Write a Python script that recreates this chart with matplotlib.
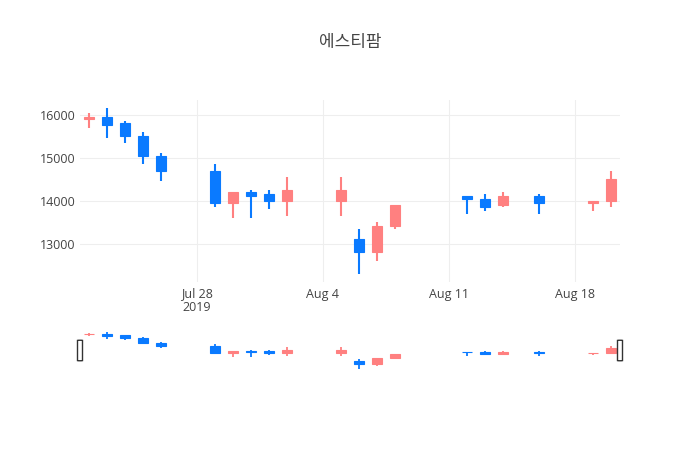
import matplotlib
matplotlib.use("Agg")
import matplotlib.pyplot as plt
import matplotlib.dates as mdates
from matplotlib.patches import FancyBboxPatch
import numpy as np
import datetime as dt

plt.rcParams['font.family'] = ['Open Sans', 'Noto Sans CJK KR', 'DejaVu Sans']

title = '에스티팜'
dates = ['2019-07-22', '2019-07-23', '2019-07-24', '2019-07-25', '2019-07-26',
         '2019-07-29', '2019-07-30', '2019-07-31', '2019-08-01', '2019-08-02',
         '2019-08-05', '2019-08-06', '2019-08-07', '2019-08-08',
         '2019-08-12', '2019-08-13', '2019-08-14', '2019-08-16',
         '2019-08-19', '2019-08-20']
opens = [15900, 15950, 15800, 15500, 15050, 14700, 13950, 14200, 14150, 14000,
         14000, 13100, 12800, 13400, 14100, 14050, 13900, 14100, 13950, 14000]
highs = [16050, 16150, 15850, 15600, 15100, 14850, 14200, 14250, 14250, 14550,
         14550, 13350, 13500, 13900, 14100, 14150, 14200, 14150, 14000, 14700]
lows = [15700, 15450, 15350, 14850, 14450, 13850, 13600, 13600, 13800, 13650,
        13650, 12300, 12600, 13350, 13700, 13750, 13850, 13700, 13750, 13850]
closes = [15950, 15750, 15500, 15050, 14700, 13950, 14200, 14100, 14000, 14250,
          14250, 12800, 13400, 13900, 14050, 13850, 14100, 13950, 14000, 14500]
x_ticks = ['2019-07-28', '2019-08-04', '2019-08-11', '2019-08-18']
x_tick_labels = ['Jul 28\n2019', 'Aug 4', 'Aug 11', 'Aug 18']
y_ticks = [13000, 14000, 15000, 16000]

UP = '#ff8080'
DOWN = '#0a7aff'
TXT = '#444444'

x = mdates.date2num([dt.date.fromisoformat(d) for d in dates])
o = np.array(opens)
h = np.array(highs)
l = np.array(lows)
c = np.array(closes)
colors = [UP if cc >= oo else DOWN for oo, cc in zip(o, c)]


def draw_candles(ax, lw, width):
    ax.vlines(x, l, h, colors=colors, linewidth=lw, zorder=2)
    bottom = np.minimum(o, c)
    height = np.maximum(np.abs(c - o), 15)
    ax.bar(x, height, width=width, bottom=bottom, color=colors,
           edgecolor=colors, linewidth=0.8, zorder=3)


fig = plt.figure(figsize=(7, 4.5), dpi=100)
W, H = 700, 450

ax = fig.add_axes([80 / W, (H - 282) / H, 540 / W, 182 / H])
draw_candles(ax, 1.5, 0.6)
xmin, xmax = x[0] - 0.5, x[-1] + 0.5
ax.set_xlim(xmin, xmax)
span = h.max() - l.min()
ax.set_ylim(l.min() - 0.05 * span, h.max() + 0.05 * span)
ax.set_yticks(y_ticks)
ax.set_yticklabels([str(v) for v in y_ticks])
ax.set_xticks(mdates.date2num([dt.date.fromisoformat(d) for d in x_ticks]))
ax.set_xticklabels(x_tick_labels, linespacing=1.05)
ax.grid(True, color='#eeeeee', linewidth=0.75, zorder=0)
ax.set_axisbelow(True)
for s in ax.spines.values():
    s.set_visible(False)
ax.tick_params(axis='both', length=0, labelsize=9, colors=TXT)
ax.tick_params(axis='x', pad=4)
ax.tick_params(axis='y', pad=3)

# range slider below the axis
sl = fig.add_axes([80 / W, (H - 371) / H, 540 / W, 41 / H])
draw_candles(sl, 1.3, 0.6)
sl.set_xlim(xmin, xmax)
sl.set_ylim(l.min() - 0.05 * span, h.max() + 0.05 * span)
sl.set_xticks([])
sl.set_yticks([])
for s in sl.spines.values():
    s.set_visible(False)
for hx in (0.0, 1.0):
    grab = FancyBboxPatch((hx - 2.5 / 540, 0.25), 5 / 540, 0.5,
                          boxstyle='round,pad=0,rounding_size=0.004',
                          transform=sl.transAxes, facecolor='white',
                          edgecolor='#333333', linewidth=1, clip_on=False,
                          zorder=5)
    sl.add_patch(grab)

fig.text(0.5, 1 - 43 / H, title, ha='center', va='center', fontsize=12.2,
         color=TXT)

fig.savefig('out.png', dpi=100)
